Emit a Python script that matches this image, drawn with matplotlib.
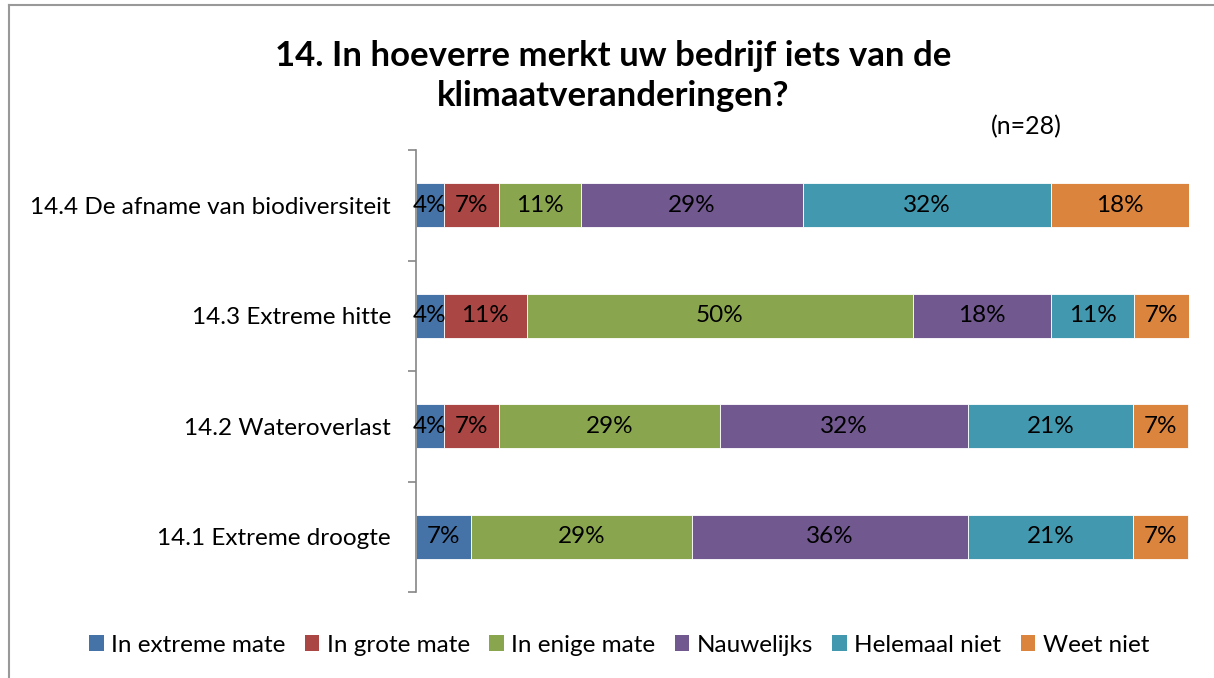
import matplotlib
matplotlib.use("Agg")
import matplotlib.pyplot as plt
from matplotlib.lines import Line2D
from matplotlib.patches import Patch
import numpy as np

plt.rcParams['font.family'] = ['Lato', 'DejaVu Sans']

title = "14. In hoeverre merkt uw bedrijf iets van de\nklimaatveranderingen?"
note = "(n=28)"
categories = ["14.1 Extreme droogte", "14.2 Wateroverlast", "14.3 Extreme hitte",
              "14.4 De afname van biodiversiteit"]
series = ["In extreme mate", "In grote mate", "In enige mate", "Nauwelijks",
          "Helemaal niet", "Weet niet"]
colors = ["#4572A7", "#AA4643", "#89A54E", "#71588F", "#4198AF", "#DB843D"]

# percentages per series, in category order (14.1, 14.2, 14.3, 14.4)
in_extreme_mate = [7.1, 3.6, 3.6, 3.6]
in_grote_mate = [0.0, 7.1, 10.7, 7.1]
in_enige_mate = [28.6, 28.6, 50.0, 10.7]
nauwelijks = [35.7, 32.1, 17.9, 28.6]
helemaal_niet = [21.4, 21.4, 10.7, 32.1]
weet_niet = [7.1, 7.1, 7.1, 17.9]
values = [in_extreme_mate, in_grote_mate, in_enige_mate, nauwelijks, helemaal_niet, weet_niet]

W, H = 1214, 678
fig = plt.figure(figsize=(W / 100, H / 100), dpi=100)
ax = fig.add_axes([416 / W, 1 - 592 / H, (1189 - 416) / W, (592 - 150) / H])

y = np.arange(len(categories))
left = np.zeros(len(categories))
for name, vals, col in zip(series, values, colors):
    vals = np.array(vals)
    bars = ax.barh(y, vals, left=left, height=0.4, color=col, edgecolor="white",
                   linewidth=0.6, label=name)
    for b, v in zip(bars, vals):
        if v > 0:
            ax.text(b.get_x() + b.get_width() / 2, b.get_y() + b.get_height() / 2,
                    f"{v:.0f}%", ha="center", va="center", fontsize=17.5, color="black")
    left += vals

ax.set_xlim(0, left.max())
ax.set_ylim(-0.5, len(categories) - 0.5)
ax.set_yticks(y)
ax.set_yticklabels(categories, fontsize=17.5)
ax.tick_params(axis="y", which="major", length=0, pad=18)
ax.set_yticks(np.arange(-0.5, len(categories)), minor=True)
ax.tick_params(axis="y", which="minor", length=6, width=1.2, color="#868686")
ax.set_xticks([])
for s in ["top", "right", "bottom"]:
    ax.spines[s].set_visible(False)
ax.spines["left"].set_color("#868686")
ax.spines["left"].set_linewidth(1.2)

fig.text(613 / W, 1 - 76 / H, title, ha="center", va="center", fontsize=25,
         fontweight="bold", linespacing=1.3)
fig.text(1026 / W, 1 - 127 / H, note, ha="center", va="center", fontsize=18)

handles = [Patch(facecolor=c, edgecolor="none") for c in colors]
fig.legend(handles, series, loc="center", bbox_to_anchor=(619 / W, 1 - 645 / H),
           ncol=6, frameon=False, fontsize=17.5, handlelength=0.6, handleheight=0.6,
           handletextpad=0.3, columnspacing=0.8)

# outer chart border
fig.add_artist(Line2D([9 / W, 1], [1 - 5 / H, 1 - 5 / H], color="#999999", lw=1.5))
fig.add_artist(Line2D([9 / W, 9 / W], [0, 1 - 5 / H], color="#999999", lw=1.5))

fig.savefig("out.png", dpi=100)
